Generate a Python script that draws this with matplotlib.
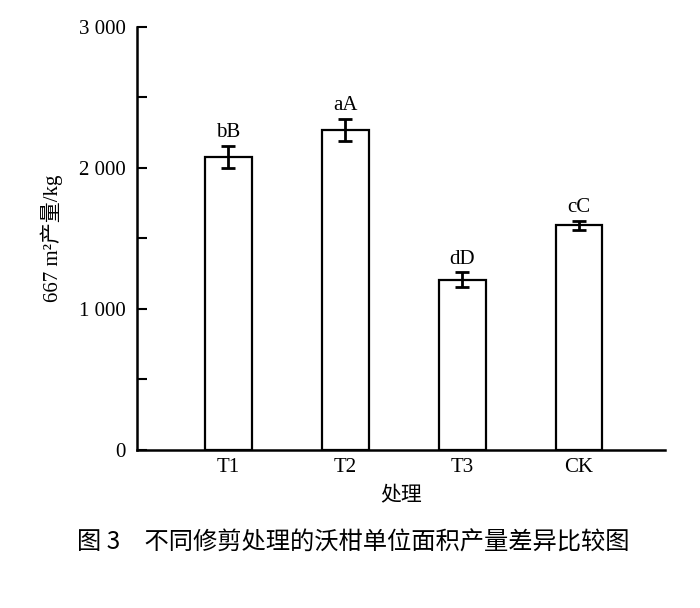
import numpy as np
import matplotlib
matplotlib.use("Agg")
import matplotlib.pyplot as plt
from matplotlib.ticker import FuncFormatter, MultipleLocator

plt.rcParams['font.family'] = ['Liberation Serif', 'Noto Sans CJK SC']

# data
groups = ["T1", "T2", "T3", "CK"]
yields = [2078, 2270, 1208, 1592]
errors = [80, 80, 52, 32]
letters = ["bB", "aA", "dD", "cC"]

fig = plt.figure(figsize=(7, 6.08), dpi=100)
ax = fig.add_axes([0.196, 0.26, 0.754, 0.6956])

x = np.arange(len(groups))
ax.bar(x, yields, width=0.4, color="white", edgecolor="black", linewidth=1.6)
ax.errorbar(x, yields, yerr=errors, fmt="none", ecolor="black",
            elinewidth=2, capsize=5, capthick=2)
for xi, y, e, lab in zip(x, yields, errors, letters):
    ax.text(xi, y + e + 25, lab, ha="center", va="bottom", fontsize=15)

ax.set_xlim(-0.78, 3.735)
ax.set_ylim(0, 3000)
ax.set_xticks(x)
ax.set_xticklabels(groups)
ax.tick_params(axis="x", length=0, labelsize=15, pad=6)
ax.yaxis.set_major_locator(MultipleLocator(1000))
ax.yaxis.set_minor_locator(MultipleLocator(500))
ax.yaxis.set_major_formatter(FuncFormatter(lambda v, p: f"{int(v):,}".replace(",", " ")))
ax.tick_params(axis="y", which="both", direction="in", length=7, width=1.5, labelsize=15, pad=8)

for s in ["top", "right"]:
    ax.spines[s].set_visible(False)
for s in ["left", "bottom"]:
    ax.spines[s].set_linewidth(1.8)

ax.set_xlabel("处理", fontsize=15, labelpad=7)
ax.set_ylabel("667 m²产量/kg", fontsize=15, labelpad=12)

# caption below the chart, slightly thickened regular weight
fig.text(0.505, 0.107, "图 3\u3000不同修剪处理的沃柑单位面积产量差异比较图",
         ha="center", va="center", fontsize=17.5, weight="medium",
         family="Noto Sans CJK SC")

fig.savefig("out.png", dpi=100, facecolor="white")
